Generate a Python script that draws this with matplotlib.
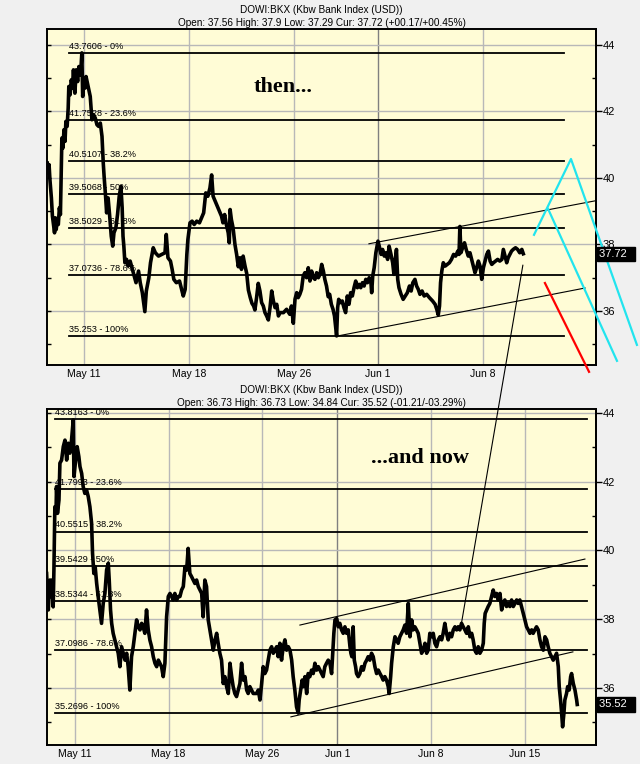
import matplotlib.pyplot as plt
from matplotlib.patches import ConnectionPatch
from matplotlib.transforms import blended_transform_factory

# x axis = trading days counted from May 11 (May 18 = 5, May 26 = 10, Jun 1 = 14 ...)
then_ticks = [0, 5, 10, 14, 19]
then_ticklabels = ['May 11', 'May 18', 'May 26', 'Jun 1', 'Jun 8']
now_ticks = [0, 5, 10, 14, 19, 24]
now_ticklabels = ['May 11', 'May 18', 'May 26', 'Jun 1', 'Jun 8', 'Jun 15']
price_ticks = [36, 38, 40, 42, 44]
price_minor = [35, 37, 39, 41, 43]

fib_pct = ['0%', '23.6%', '38.2%', '50%', '61.8%', '78.6%', '100%']
then_fib = [43.7606, 41.7528, 40.5107, 39.5068, 38.5029, 37.0736, 35.253]
now_fib = [43.8163, 41.7993, 40.5515, 39.5429, 38.5344, 37.0986, 35.2696]

then_days = [
    -1.75, -1.70, -1.66, -1.62, -1.55, -1.50, -1.45, -1.40, -1.36, -1.32, -1.27, -1.22,
    -1.17, -1.12, -1.08, -1.05, -1.00, -0.95, -0.90, -0.86, -0.80, -0.75, -0.72, -0.66,
    -0.60, -0.55, -0.50, -0.43, -0.37, -0.30, -0.24, -0.16, -0.10, -0.06, 0.00, 0.05,
    0.10, 0.20, 0.30, 0.38, 0.46, 0.54, 0.62, 0.70, 0.78, 0.86, 0.92, 0.96,
    1.03, 1.08, 1.15, 1.22, 1.30, 1.37, 1.43, 1.52, 1.60, 1.68, 1.76, 1.82,
    1.86, 1.90, 1.95, 2.03, 2.10, 2.20, 2.35, 2.48, 2.60, 2.68, 2.78, 2.90,
    2.97, 3.09, 3.17, 3.30, 3.40, 3.55, 3.70, 3.86, 3.92, 4.00, 4.12, 4.20,
    4.28, 4.40, 4.55, 4.73, 4.82, 4.90, 4.95, 5.05, 5.15, 5.25, 5.37, 5.50,
    5.60, 5.70, 5.80, 5.90, 6.00, 6.08, 6.15, 6.25, 6.35, 6.45, 6.55, 6.62,
    6.70, 6.78, 6.87, 6.92, 6.96, 7.02, 7.10, 7.19, 7.27, 7.35, 7.43, 7.50,
    7.58, 7.67, 7.75, 7.83, 7.92, 8.00, 8.08, 8.14, 8.22, 8.30, 8.38, 8.46,
    8.54, 8.62, 8.70, 8.78, 8.86, 8.94, 9.02, 9.10, 9.18, 9.26, 9.33, 9.50,
    9.65, 9.80, 9.88, 9.97, 10.05, 10.13, 10.20, 10.28, 10.36, 10.44, 10.52, 10.60,
    10.68, 10.76, 10.84, 10.92, 11.00, 11.08, 11.16, 11.24, 11.32, 11.40, 11.47, 11.55,
    11.63, 11.70, 11.78, 11.86, 11.93, 12.03, 12.08, 12.13, 12.22, 12.30, 12.38, 12.46,
    12.54, 12.62, 12.70, 12.78, 12.86, 12.94, 13.02, 13.10, 13.18, 13.26, 13.34, 13.42,
    13.50, 13.58, 13.66, 13.70, 13.75, 13.82, 13.90, 14.00, 14.08, 14.15, 14.22, 14.30,
    14.38, 14.46, 14.53, 14.62, 14.70, 14.76, 14.82, 14.88, 14.94, 15.00, 15.10, 15.20,
    15.30, 15.40, 15.50, 15.58, 15.66, 15.76, 15.84, 15.92, 16.00, 16.10, 16.20, 16.32,
    16.45, 16.60, 16.72, 16.80, 16.87, 16.93, 16.98, 17.04, 17.11, 17.20, 17.30, 17.40,
    17.50, 17.60, 17.70, 17.80, 17.86, 17.90, 17.95, 18.03, 18.12, 18.20, 18.30, 18.38,
    18.46, 18.54, 18.62, 18.70, 18.78, 18.86, 18.94, 19.02, 19.10, 19.18, 19.26, 19.34,
    19.42, 19.50, 19.60, 19.70, 19.80, 19.90, 19.97, 20.05, 20.13, 20.20, 20.28, 20.36,
    20.44, 20.55, 20.65, 20.75, 20.85, 20.92,
]
then_price = [
    40.45, 40.15, 40.40, 39.95, 39.40, 38.85, 38.60, 38.35, 38.80, 38.45, 38.75, 38.60,
    39.10, 38.90, 40.20, 41.20, 40.90, 41.45, 41.10, 41.70, 41.55, 42.10, 42.75, 42.50,
    42.95, 42.70, 43.25, 42.55, 43.25, 42.90, 43.35, 43.10, 43.76, 42.45, 43.00, 42.70,
    43.05, 42.75, 42.45, 41.75, 41.90, 41.80, 41.60, 41.55, 41.65, 41.25, 40.45, 40.05,
    39.45, 38.95, 39.40, 38.90, 38.25, 37.95, 38.35, 38.50, 38.90, 39.45, 39.75, 39.10,
    38.25, 37.95, 37.45, 37.55, 37.35, 37.50, 37.15, 36.85, 37.20, 36.85, 36.55, 35.98,
    36.60, 37.00, 37.45, 37.90, 37.75, 37.65, 37.70, 37.75, 38.30, 37.60, 37.50, 37.25,
    36.95, 36.85, 36.90, 36.45, 36.65, 37.70, 38.15, 38.65, 38.70, 38.60, 38.70, 38.65,
    38.80, 38.95, 39.55, 39.45, 39.70, 40.09, 39.45, 39.30, 39.15, 39.00, 38.85, 38.65,
    38.90, 38.60, 38.35, 38.05, 39.05, 38.75, 38.50, 38.00, 37.70, 37.33, 37.60, 37.25,
    37.65, 37.35, 37.13, 36.63, 36.40, 36.23, 36.15, 36.03, 36.40, 36.83, 36.60, 36.25,
    36.15, 35.95, 35.85, 35.73, 36.10, 36.60, 36.30, 36.10, 36.20, 35.85, 35.95, 35.95,
    36.05, 35.90, 36.15, 35.63, 36.35, 36.55, 36.40, 36.50, 36.65, 37.05, 37.15, 37.00,
    37.30, 36.90, 37.20, 37.00, 36.95, 37.15, 37.00, 37.10, 37.40, 37.20, 36.95, 36.75,
    36.43, 36.50, 36.20, 36.05, 35.85, 35.25, 36.10, 36.35, 36.25, 36.30, 36.10, 35.95,
    36.45, 36.20, 36.55, 36.45, 36.70, 36.90, 36.70, 36.80, 36.70, 36.85, 36.75, 36.95,
    36.85, 37.00, 36.90, 36.55, 37.05, 37.30, 37.75, 38.10, 37.90, 37.70, 37.85, 37.65,
    37.75, 37.55, 37.95, 37.70, 37.45, 37.10, 37.50, 37.85, 36.95, 36.70, 36.50, 36.35,
    36.45, 36.55, 36.75, 36.60, 36.85, 36.95, 36.75, 36.65, 36.50, 36.60, 36.45, 36.50,
    36.40, 36.30, 36.20, 36.05, 35.88, 36.15, 36.85, 37.20, 37.45, 37.35, 37.40, 37.45,
    37.55, 37.70, 37.65, 37.80, 37.70, 38.54, 37.75, 37.90, 38.05, 37.85, 37.65, 37.75,
    37.55, 37.35, 37.15, 37.30, 37.50, 37.35, 36.95, 37.30, 37.50, 37.70, 37.80, 37.50,
    37.40, 37.45, 37.50, 37.55, 37.50, 37.55, 37.85, 37.65, 37.45, 37.60, 37.70, 37.80,
    37.85, 37.90, 37.85, 37.75, 37.85, 37.72,
]

now_days = [
    -1.51, -1.48, -1.42, -1.33, -1.28, -1.21, -1.16, -1.12, -1.07, -1.01, -0.98, -0.93,
    -0.85, -0.80, -0.71, -0.62, -0.53, -0.44, -0.36, -0.27, -0.18, -0.09, -0.05, 0.04,
    0.12, 0.21, 0.27, 0.36, 0.44, 0.53, 0.62, 0.71, 0.80, 0.89, 0.94, 1.01,
    1.08, 1.16, 1.24, 1.33, 1.42, 1.51, 1.60, 1.69, 1.78, 1.83, 1.90, 1.96,
    2.04, 2.13, 2.22, 2.31, 2.40, 2.49, 2.58, 2.67, 2.76, 2.84, 2.93, 3.02,
    3.11, 3.20, 3.29, 3.38, 3.47, 3.56, 3.64, 3.73, 3.82, 3.91, 4.00, 4.09,
    4.18, 4.27, 4.36, 4.45, 4.53, 4.62, 4.71, 4.80, 4.89, 4.98, 5.07, 5.16,
    5.24, 5.33, 5.42, 5.51, 5.60, 5.69, 5.78, 5.87, 5.96, 6.04, 6.13, 6.22,
    6.31, 6.40, 6.49, 6.58, 6.67, 6.76, 6.84, 6.93, 7.02, 7.11, 7.20, 7.29,
    7.38, 7.47, 7.56, 7.64, 7.73, 7.82, 7.91, 8.00, 8.09, 8.18, 8.27, 8.36,
    8.44, 8.53, 8.62, 8.71, 8.80, 8.89, 8.98, 9.07, 9.16, 9.24, 9.33, 9.51,
    9.69, 9.78, 9.87, 9.96, 10.04, 10.13, 10.22, 10.31, 10.40, 10.49, 10.58, 10.67,
    10.76, 10.84, 10.93, 11.02, 11.11, 11.20, 11.29, 11.38, 11.47, 11.56, 11.64, 11.73,
    11.82, 11.91, 11.96, 12.04, 12.12, 12.18, 12.27, 12.36, 12.44, 12.53, 12.62, 12.71,
    12.80, 12.89, 12.98, 13.07, 13.16, 13.24, 13.33, 13.42, 13.51, 13.60, 13.69, 13.74,
    13.81, 13.87, 13.96, 14.05, 14.13, 14.22, 14.31, 14.40, 14.49, 14.58, 14.67, 14.72,
    14.77, 14.84, 14.90, 14.97, 15.02, 15.11, 15.20, 15.29, 15.38, 15.47, 15.56, 15.64,
    15.73, 15.82, 15.91, 16.00, 16.09, 16.18, 16.27, 16.36, 16.44, 16.53, 16.62, 16.71,
    16.76, 16.84, 16.89, 16.98, 17.07, 17.16, 17.24, 17.33, 17.42, 17.51, 17.60, 17.69,
    17.78, 17.87, 17.96, 18.04, 18.13, 18.22, 18.31, 18.40, 18.49, 18.58, 18.67, 18.76,
    18.84, 18.93, 19.02, 19.11, 19.20, 19.29, 19.38, 19.47, 19.56, 19.64, 19.73, 19.82,
    19.91, 20.00, 20.09, 20.18, 20.27, 20.36, 20.44, 20.53, 20.62, 20.71, 20.80, 20.89,
    20.98, 21.07, 21.16, 21.24, 21.33, 21.42, 21.51, 21.60, 21.69, 21.78, 21.83, 21.88,
    21.96, 22.04, 22.13, 22.22, 22.31, 22.40, 22.49, 22.58, 22.67, 22.76, 22.84, 22.93,
    23.02, 23.11, 23.20, 23.29, 23.38, 23.47, 23.56, 23.64, 23.73, 23.82, 23.91, 24.00,
    24.09, 24.18, 24.27, 24.36, 24.44, 24.53, 24.62, 24.71, 24.80, 24.89, 24.98, 25.07,
    25.16, 25.24, 25.33, 25.42, 25.51, 25.60, 25.69, 25.78, 25.83, 25.90, 25.96, 26.01,
    26.08, 26.13, 26.22, 26.28, 26.36, 26.44, 26.49, 26.58, 26.67, 26.76, 26.79,
]
now_price = [
    39.33, 38.95, 38.27, 39.14, 38.66, 39.14, 38.36, 39.43, 41.27, 41.08, 41.86, 41.08,
    41.47, 42.54, 42.63, 43.02, 43.21, 42.63, 43.12, 42.83, 43.21, 43.80, 42.15, 42.63,
    43.02, 42.73, 42.44, 42.24, 41.86, 41.66, 41.76, 41.57, 41.27, 40.79, 39.92, 39.33,
    39.53, 39.04, 38.66, 38.27, 37.88, 38.46, 38.75, 39.43, 39.63, 39.14, 38.27, 37.88,
    37.59, 37.39, 37.20, 37.01, 36.62, 37.20, 37.01, 36.81, 37.01, 36.62, 35.94, 36.91,
    37.20, 37.59, 37.98, 37.78, 37.69, 37.88, 37.78, 37.59, 38.27, 37.69, 37.39, 37.20,
    36.91, 36.72, 36.62, 36.81, 36.72, 36.62, 36.33, 36.72, 38.07, 38.66, 38.75, 38.66,
    38.56, 38.75, 38.56, 38.66, 38.66, 38.85, 38.95, 39.53, 39.43, 40.06, 39.33, 39.24,
    39.14, 39.04, 39.14, 38.95, 38.85, 38.75, 38.07, 39.14, 38.95, 37.98, 37.69, 37.39,
    37.10, 37.39, 37.59, 37.30, 37.01, 36.81, 36.13, 36.33, 36.04, 35.84, 36.72, 36.33,
    36.04, 35.84, 35.75, 35.94, 36.13, 36.72, 36.23, 36.33, 35.94, 35.84, 36.04, 35.84,
    35.84, 35.94, 35.65, 36.13, 36.62, 36.42, 36.52, 36.81, 37.10, 37.20, 37.01, 37.10,
    37.20, 36.91, 37.30, 36.81, 37.20, 37.40, 37.10, 37.20, 37.10, 36.81, 36.33, 35.94,
    35.45, 35.27, 35.65, 35.94, 36.23, 36.04, 36.33, 35.84, 36.42, 36.33, 36.52, 36.42,
    36.72, 36.52, 36.62, 36.52, 36.42, 36.33, 36.62, 36.72, 36.81, 36.72, 36.42, 36.91,
    37.59, 37.98, 38.02, 37.78, 37.88, 37.69, 37.59, 37.78, 37.59, 37.69, 37.20, 37.01,
    36.91, 37.78, 36.81, 36.62, 36.42, 36.33, 36.42, 36.62, 36.52, 36.72, 36.81, 36.91,
    36.81, 37.01, 36.91, 36.62, 36.42, 36.52, 36.42, 36.33, 36.23, 36.33, 36.23, 36.04,
    35.84, 36.33, 36.72, 37.20, 37.49, 37.40, 37.30, 37.49, 37.59, 37.69, 37.83, 37.59,
    38.46, 37.49, 37.98, 37.69, 37.78, 37.69, 37.59, 37.30, 37.01, 37.10, 37.30, 37.01,
    37.10, 37.59, 37.49, 37.59, 37.30, 37.20, 37.40, 37.49, 37.40, 37.59, 37.88, 37.59,
    37.40, 37.59, 37.49, 37.69, 37.78, 37.69, 37.78, 37.69, 37.88, 37.78, 37.69, 37.59,
    37.78, 37.49, 37.59, 37.40, 37.10, 37.01, 37.20, 37.01, 37.10, 37.30, 37.88, 38.17,
    38.27, 38.37, 38.46, 38.66, 38.85, 38.66, 38.75, 38.56, 38.75, 38.27, 38.46, 38.56,
    38.37, 38.46, 38.37, 38.56, 38.37, 38.46, 38.56, 38.46, 38.56, 38.37, 38.17, 37.98,
    37.78, 37.69, 37.59, 37.69, 37.59, 37.69, 37.78, 37.69, 37.40, 37.20, 37.10, 37.49,
    37.40, 37.20, 37.01, 36.91, 36.81, 36.91, 37.01, 36.62, 36.04, 35.65, 35.26, 34.87,
    35.26, 35.65, 35.84, 36.04, 35.94, 36.33, 36.42, 36.13, 35.94, 35.65, 35.52,
]

# hand drawn trend lines: (day, price) pairs
then_upper = ([13.57, 24.33], [38.02, 39.31])
then_lower = ([12.10, 23.86], [35.25, 36.69])
now_upper = ([12.0, 27.2], [37.83, 39.75])
now_lower = ([11.52, 26.56], [35.16, 37.05])
cyan_a = ([21.43, 23.19, 26.33], [38.29, 40.57, 34.98])
cyan_b = ([22.10, 25.38], [39.07, 34.50])
red_leg = ([21.95, 24.05], [36.84, 34.17])
link_then = (20.90, 37.38)
link_now = (20.59, 37.80)

bg = '#f0f0f0'
plot_bg = '#fffcd6'
sans = 'Liberation Sans'

fig = plt.figure(figsize=(6.4, 7.64), dpi=100, facecolor=bg)
ax1 = fig.add_axes([0.0734, 0.5223, 0.8578, 0.4398])
ax2 = fig.add_axes([0.0734, 0.0249, 0.8578, 0.4398])


def setup(ax, ticks, labels, xlim, ylim, fib, sub, cur, fib_x):
    ax.set_facecolor(plot_bg)
    ax.set_xlim(xlim)
    ax.set_ylim(ylim)
    for s in ax.spines.values():
        s.set_linewidth(1.4)
    ax.set_xticks(ticks)
    ax.set_xticklabels(labels, fontsize=7.5, family=sans)
    ax.tick_params(axis='x', length=0, pad=3)
    ax.set_yticks(price_ticks)
    ax.set_yticks(price_minor, minor=True)
    ax.tick_params(axis='y', which='both', direction='in', length=3, width=1,
                   labelleft=False)
    ax.grid(True, which='major', color='#b8b8b8', lw=1.0)
    ax.set_axisbelow(True)
    ax.get_xgridlines()[labels.index('Jun 1')].set_color('#808080')

    sec = ax.secondary_yaxis('right')
    sec.set_yticks(price_ticks)
    sec.set_yticks(price_minor, minor=True)
    sec.tick_params(which='major', direction='out', length=4, width=1, pad=1,
                    labelsize=8)
    sec.tick_params(which='minor', direction='in', length=3, width=1)
    for t in sec.get_yticklabels():
        t.set_family(sans)
    sec.spines['right'].set_linewidth(1.4)

    for lvl, pct in zip(fib, fib_pct):
        ax.plot(fib_x, [lvl, lvl], color='black', lw=1.3, zorder=2)
        ax.annotate(f'{lvl} - {pct}', (fib_x[0], lvl), xytext=(0, 1.5),
                    textcoords='offset points', fontsize=6.6, family=sans,
                    va='bottom', ha='left', zorder=2)

    tr = ax.transAxes
    ax.text(0.5, 1.0 + 19 / 336, 'DOWI:BKX (Kbw Bank Index (USD))', transform=tr,
            ha='center', va='center', fontsize=7.2, family=sans)
    ax.text(0.5, 1.0 + 6 / 336, sub, transform=tr, ha='center', va='center',
            fontsize=7.2, family=sans)
    fig.text(1.006, cur, f'{cur:.2f}  ',
             transform=blended_transform_factory(ax.transAxes, ax.transData),
             ha='left', va='center', color='white', fontsize=8, family=sans,
             bbox=dict(boxstyle='square,pad=0.2', fc='black', ec='black'))


setup(ax1, then_ticks, then_ticklabels, (-1.76, 24.38), (34.376, 44.48), then_fib,
      'Open: 37.56 High: 37.9 Low: 37.29 Cur: 37.72 (+00.17/+00.45%)', 37.72,
      [-0.71, 22.86])
setup(ax2, now_ticks, now_ticklabels, (-1.49, 27.79), (34.342, 44.116), now_fib,
      'Open: 36.73 High: 36.73 Low: 34.84 Cur: 35.52 (-01.21/-03.29%)', 35.52,
      [-1.07, 27.31])

ax1.plot(then_days, then_price, color='black', lw=2.6, zorder=3)
ax2.plot(now_days, now_price, color='black', lw=2.6, zorder=3)

for xs, ys in (then_upper, then_lower):
    ax1.plot(xs, ys, color='black', lw=0.8, zorder=4)
for xs, ys in (now_upper, now_lower):
    ax2.plot(xs, ys, color='black', lw=0.8, zorder=4)

for xs, ys in (cyan_a, cyan_b):
    ax1.plot(xs, ys, color='#22e4ee', lw=1.6, clip_on=False, zorder=5)
ax1.plot(*red_leg, color='#ff0000', lw=1.6, clip_on=False, zorder=5)

ax1.text(9.5, 42.74, 'then...', fontsize=16, fontweight='bold',
         family='Liberation Serif', ha='center', va='center')
ax2.text(18.4, 42.69, '...and now', fontsize=16, fontweight='bold',
         family='Liberation Serif', ha='center', va='center')

con = ConnectionPatch(xyA=link_then, coordsA=ax1.transData,
                      xyB=link_now, coordsB=ax2.transData,
                      color='black', lw=0.8, zorder=6)
fig.add_artist(con)

fig.savefig('out.png', dpi=100, facecolor=bg)
